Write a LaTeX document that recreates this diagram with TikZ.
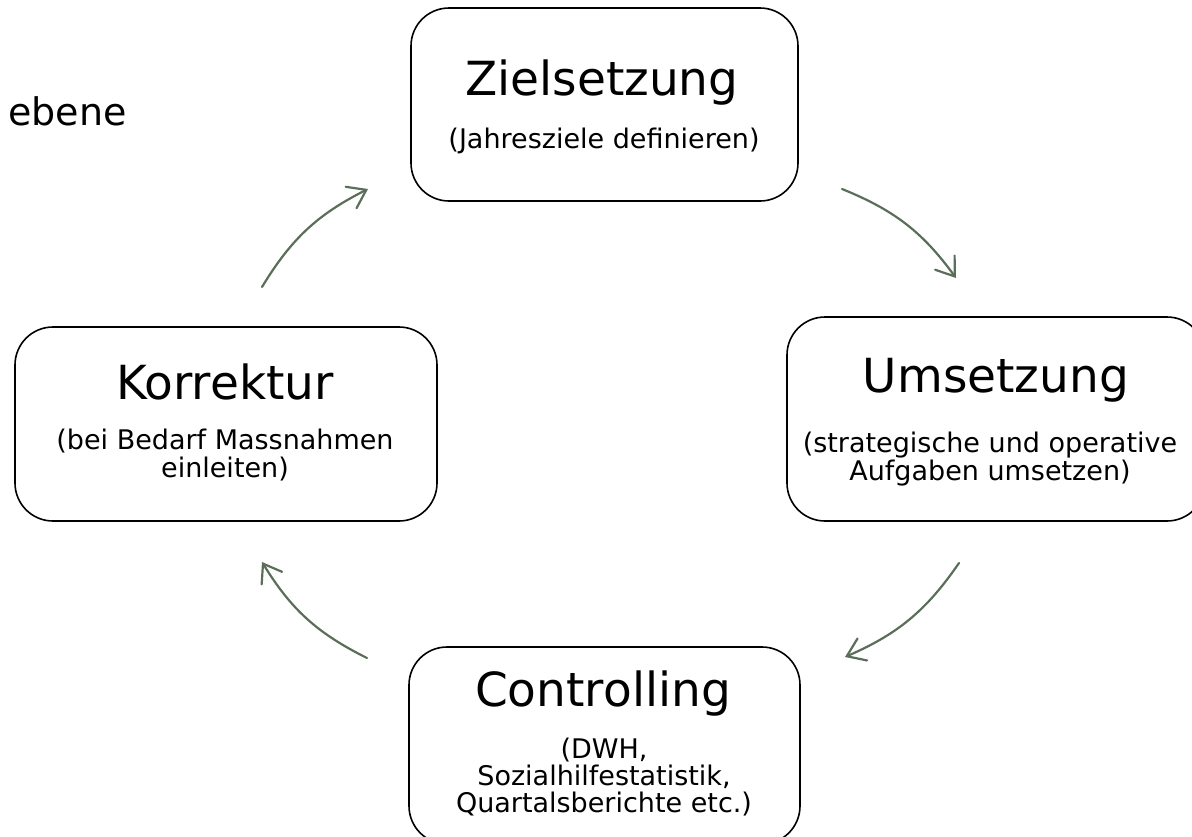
\documentclass[tikz,border=0pt]{standalone}
\usepackage{fontspec}
\setmainfont{DejaVu Sans}
\usetikzlibrary{arrows.meta}
\definecolor{arrowgreen}{RGB}{90,110,90}
\begin{document}
\begin{tikzpicture}[x=1pt,y=1pt,
  box/.style={draw=black, line width=1.6pt, rounded corners=38pt, rectangle, inner sep=0pt},
  title/.style={anchor=base, inner sep=0pt, font=\fontsize{47}{56}\selectfont},
  sub/.style={anchor=base, inner sep=0pt, font=\fontsize{27}{30}\selectfont},
  cyc/.style={draw=arrowgreen, line width=2.2pt, line cap=round, -{Straight Barb[length=17pt,width=24pt,line cap=round]}, bend left=16}]
\useasboundingbox (0,0) rectangle (1192,-836);

\node[anchor=base west, inner sep=0pt, font=\fontsize{38}{44}\selectfont] (lvl) at (8,-125) {ebene};

\node[box, minimum width=387pt, minimum height=193pt] (zbox) at (604.5,-104.5) {};
\node[title] (ztitle) at (602,-95) {Zielsetzung};
\node[sub] (zsub) at (604,-148) {(Jahresziele definieren)};

\node[box, minimum width=418pt, minimum height=204pt] (ubox) at (996,-419) {};
\node[title] (utitle) at (996,-392) {Umsetzung};
\node[sub] (usub1) at (990,-452) {(strategische und operative};
\node[sub] (usub2) at (990,-480) {Aufgaben umsetzen)};

\node[box, minimum width=422pt, minimum height=194pt] (kbox) at (226,-424) {};
\node[title] (ktitle) at (225,-399) {Korrektur};
\node[sub] (ksub1) at (225,-449) {(bei Bedarf Massnahmen};
\node[sub] (ksub2) at (225,-477) {einleiten)};

\node[box, minimum width=391pt, minimum height=197pt] (cbox) at (604.5,-745.5) {};
\node[title] (ctitle) at (603,-706) {Controlling};
\node[sub] (csub1) at (604,-758) {(DWH,};
\node[sub] (csub2) at (604,-785) {Sozialhilfestatistik,};
\node[sub] (csub3) at (604,-812) {Quartalsberichte etc.)};

\coordinate (a1s) at (842,-189); \coordinate (a1e) at (956,-278);
\coordinate (a2s) at (959,-563); \coordinate (a2e) at (845,-657);
\coordinate (a3s) at (367,-658); \coordinate (a3e) at (262,-562);
\coordinate (a4s) at (262,-287); \coordinate (a4e) at (368,-189);
\draw[cyc] (a1s) to (a1e);
\draw[cyc] (a2s) to (a2e);
\draw[cyc] (a3s) to (a3e);
\draw[cyc] (a4s) to (a4e);
\end{tikzpicture}
\end{document}
